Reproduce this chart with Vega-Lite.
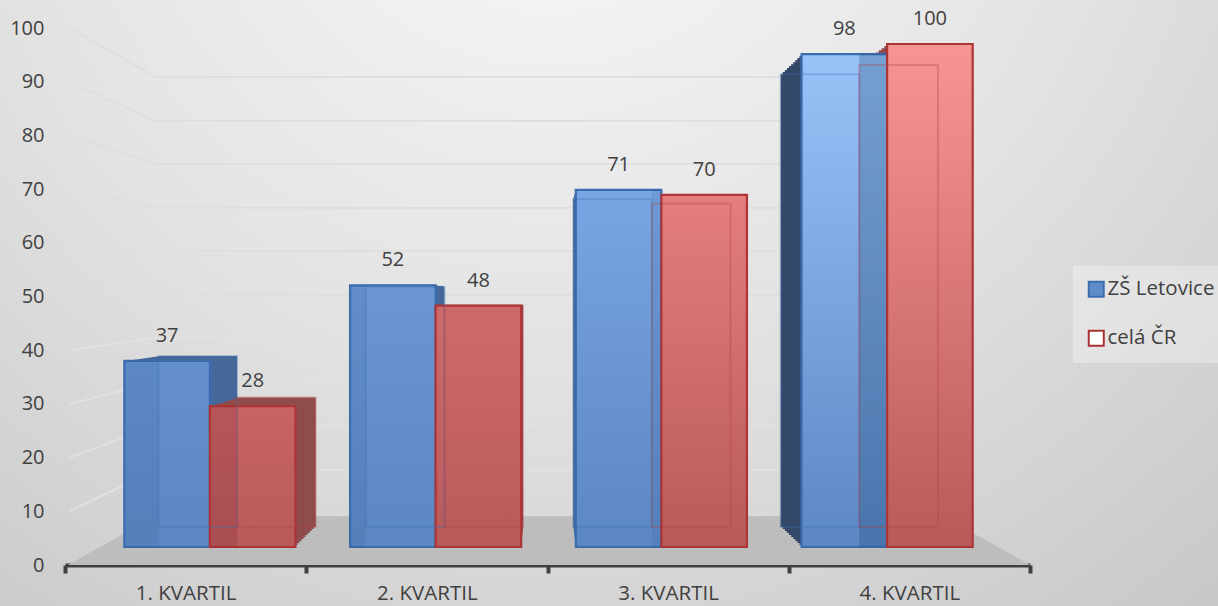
{"$schema":"https://vega.github.io/schema/vega-lite/v6.json","width":1218,"height":606,"padding":0,"autosize":{"type":"none"},
"view":{"stroke":null,"fill":{"gradient":"radial","x1":0.45,"y1":0.08,"r1":0,"x2":0.45,"y2":0.08,"r2":0.95,"stops":[{"offset":0,"color":"#fbfbfb"},{"offset":0.5,"color":"#e2e2e2"},{"offset":1,"color":"#c2c2c2"}]}},
"config":{"text":{"font":"Open Sans"}},
"datasets":{
"hodnoty":[{"kvartil":"1. KVARTIL","skupina":"ZŠ Letovice","hodnota":37},{"kvartil":"1. KVARTIL","skupina":"celá ČR","hodnota":28},{"kvartil":"2. KVARTIL","skupina":"ZŠ Letovice","hodnota":52},{"kvartil":"2. KVARTIL","skupina":"celá ČR","hodnota":48},{"kvartil":"3. KVARTIL","skupina":"ZŠ Letovice","hodnota":71},{"kvartil":"3. KVARTIL","skupina":"celá ČR","hodnota":70},{"kvartil":"4. KVARTIL","skupina":"ZŠ Letovice","hodnota":98},{"kvartil":"4. KVARTIL","skupina":"celá ČR","hodnota":100}],
"podlaha":[{"poloha":0.3,"horni":0,"dolni":0},{"poloha":9.33,"horni":9.1,"dolni":0},{"poloha":91,"horni":9.1,"dolni":0},{"poloha":100,"horni":0,"dolni":0}],
"mrizka":[{"p1":0.5,"p2":9.33,"v1":100,"v2":90.9},{"p1":9.33,"p2":91,"v1":90.9,"v2":90.9},{"p1":0.5,"p2":9.33,"v1":90,"v2":82.7},{"p1":9.33,"p2":91,"v1":82.7,"v2":82.7},{"p1":0.5,"p2":9.33,"v1":80,"v2":74.7},{"p1":9.33,"p2":91,"v1":74.7,"v2":74.7},{"p1":0.5,"p2":9.33,"v1":70,"v2":66.5},{"p1":9.33,"p2":91,"v1":66.5,"v2":66.5},{"p1":0.5,"p2":9.33,"v1":60,"v2":58.5},{"p1":9.33,"p2":91,"v1":58.5,"v2":58.5},{"p1":0.5,"p2":9.33,"v1":50,"v2":50.3},{"p1":9.33,"p2":91,"v1":50.3,"v2":50.3},{"p1":0.5,"p2":9.33,"v1":40,"v2":42.3},{"p1":9.33,"p2":91,"v1":42.3,"v2":42.3},{"p1":0.5,"p2":9.33,"v1":30,"v2":34.1},{"p1":9.33,"p2":91,"v1":34.1,"v2":34.1},{"p1":0.5,"p2":9.33,"v1":20,"v2":25.9},{"p1":9.33,"p2":91,"v1":25.9,"v2":25.9},{"p1":0.5,"p2":9.33,"v1":10,"v2":17.7},{"p1":9.33,"p2":91,"v1":17.7,"v2":17.7}]},
"data":{"name":"hodnoty"},
"resolve":{"scale":{"x":"independent","y":"independent","xOffset":"independent","fill":"independent","stroke":"independent"},"axis":{"x":"independent","y":"independent"}},
"layer":[
{"data":{"name":"podlaha"},"mark":{"type":"area","color":"#bdbdbd"},"encoding":{"x":{"field":"poloha","type":"quantitative","scale":{"domain":[0,100],"range":[65,1030]},"axis":null},"y":{"field":"horni","type":"quantitative","scale":{"domain":[0,100],"range":[565,28]},"axis":null},"y2":{"field":"dolni"}}},
{"data":{"name":"mrizka"},"mark":{"type":"rule","strokeWidth":1.6},"encoding":{"x":{"field":"p1","type":"quantitative","scale":{"domain":[0,100],"range":[65,1030]},"axis":null},"x2":{"field":"p2"},"y":{"field":"v1","type":"quantitative","scale":{"domain":[0,100],"range":[565,28]},"axis":{"orient":"left","offset":-44,"title":null,"domain":false,"ticks":false,"grid":false,"values":[0,10,20,30,40,50,60,70,80,90,100],"labelFont":"Open Sans","labelFontSize":20,"labelColor":"#404040","labelPadding":0}},"y2":{"field":"v2"},"color":{"condition":{"test":"datum.v1>=45","value":"#dedede"},"value":"#e2e2e2"}}},
{"mark":{"type":"bar","opacity":0},"encoding":{"x":{"field":"kvartil","type":"nominal","scale":{"range":[65,1030],"paddingInner":0,"paddingOuter":0},"axis":{"orient":"bottom","offset":-41,"title":null,"labelAngle":0,"tickBand":"extent","domainColor":"#404040","domainWidth":4,"tickColor":"#404040","tickWidth":4,"tickSize":8,"labelFont":"Open Sans","labelFontSize":20.5,"labelColor":"#404040","labelPadding":10}}}},
{"mark":{"type":"point","filled":true,"shape":"square","size":1,"opacity":1},"encoding":{"x":{"field":"kvartil","type":"nominal","scale":{"range":[97,1000],"paddingInner":0.242,"paddingOuter":0.121},"axis":null},"xOffset":{"field":"skupina","scale":{"type":"point","domain":["ZŠ Letovice","celá ČR"],"padding":0.5}},"y":{"field":"hodnota","type":"quantitative","stack":null,"scale":{"domain":[0,100],"range":[547,350]},"axis":null},
"fill":{"field":"skupina","scale":{"domain":["ZŠ Letovice","celá ČR"],"range":["#5f8cc8","#ffffff"]},"legend":{"title":null,"orient":"none","legendX":1073,"legendY":266,"padding":13,"fillColor":"rgba(255,255,255,0.3)","symbolType":"square","symbolSize":225,"symbolStrokeWidth":2,"labelFont":"Open Sans","labelFontSize":20.5,"labelColor":"#404040","labelOffset":1,"rowPadding":25,"labelLimit":200}},
"stroke":{"field":"skupina","scale":{"domain":["ZŠ Letovice","celá ČR"],"range":["#3d6fb0","#a83232"]},"legend":{"title":null,"orient":"none","legendX":1073,"legendY":266,"padding":13,"fillColor":"rgba(255,255,255,0.3)","symbolType":"square","symbolSize":225,"symbolStrokeWidth":2,"labelFont":"Open Sans","labelFontSize":20.5,"labelColor":"#404040","labelOffset":1,"rowPadding":25,"labelLimit":200}}}},
{"mark":{"type":"bar"},"encoding":{"x":{"field":"kvartil","type":"nominal","scale":{"range":[133.4,963],"paddingInner":0.242,"paddingOuter":0.121},"axis":null},"xOffset":{"field":"skupina","scale":{"domain":["ZŠ Letovice","celá ČR"],"paddingInner":0,"paddingOuter":0}},"y":{"field":"hodnota","type":"quantitative","stack":null,"scale":{"domain":[0,100],"range":[527,64.9]},"axis":null},"fill":{"condition":{"test":"datum.kvartil=='4. KVARTIL'&&datum.skupina=='ZŠ Letovice'","value":"#34496a"},"field":"skupina","scale":{"domain":["ZŠ Letovice","celá ČR"],"range":["#46689a","#8f4c4c"]},"legend":null}}},
{"mark":{"type":"bar"},"encoding":{"x":{"field":"kvartil","type":"nominal","scale":{"range":[129.8,966.7],"paddingInner":0.242,"paddingOuter":0.121},"axis":null},"xOffset":{"field":"skupina","scale":{"domain":["ZŠ Letovice","celá ČR"],"paddingInner":0,"paddingOuter":0}},"y":{"field":"hodnota","type":"quantitative","stack":null,"scale":{"domain":[0,100],"range":[529,62.8]},"axis":null},"fill":{"condition":{"test":"datum.kvartil=='4. KVARTIL'&&datum.skupina=='ZŠ Letovice'","value":"#34496a"},"field":"skupina","scale":{"domain":["ZŠ Letovice","celá ČR"],"range":["#46689a","#8f4c4c"]},"legend":null}}},
{"mark":{"type":"bar"},"encoding":{"x":{"field":"kvartil","type":"nominal","scale":{"range":[126.1,970.4],"paddingInner":0.242,"paddingOuter":0.121},"axis":null},"xOffset":{"field":"skupina","scale":{"domain":["ZŠ Letovice","celá ČR"],"paddingInner":0,"paddingOuter":0}},"y":{"field":"hodnota","type":"quantitative","stack":null,"scale":{"domain":[0,100],"range":[531,60.7]},"axis":null},"fill":{"condition":{"test":"datum.kvartil=='4. KVARTIL'&&datum.skupina=='ZŠ Letovice'","value":"#34496a"},"field":"skupina","scale":{"domain":["ZŠ Letovice","celá ČR"],"range":["#46689a","#8f4c4c"]},"legend":null}}},
{"mark":{"type":"bar"},"encoding":{"x":{"field":"kvartil","type":"nominal","scale":{"range":[122.5,974.1],"paddingInner":0.242,"paddingOuter":0.121},"axis":null},"xOffset":{"field":"skupina","scale":{"domain":["ZŠ Letovice","celá ČR"],"paddingInner":0,"paddingOuter":0}},"y":{"field":"hodnota","type":"quantitative","stack":null,"scale":{"domain":[0,100],"range":[533,58.6]},"axis":null},"fill":{"condition":{"test":"datum.kvartil=='4. KVARTIL'&&datum.skupina=='ZŠ Letovice'","value":"#34496a"},"field":"skupina","scale":{"domain":["ZŠ Letovice","celá ČR"],"range":["#46689a","#8f4c4c"]},"legend":null}}},
{"mark":{"type":"bar"},"encoding":{"x":{"field":"kvartil","type":"nominal","scale":{"range":[118.8,977.8],"paddingInner":0.242,"paddingOuter":0.121},"axis":null},"xOffset":{"field":"skupina","scale":{"domain":["ZŠ Letovice","celá ČR"],"paddingInner":0,"paddingOuter":0}},"y":{"field":"hodnota","type":"quantitative","stack":null,"scale":{"domain":[0,100],"range":[535,56.5]},"axis":null},"fill":{"condition":{"test":"datum.kvartil=='4. KVARTIL'&&datum.skupina=='ZŠ Letovice'","value":"#34496a"},"field":"skupina","scale":{"domain":["ZŠ Letovice","celá ČR"],"range":["#46689a","#8f4c4c"]},"legend":null}}},
{"mark":{"type":"bar"},"encoding":{"x":{"field":"kvartil","type":"nominal","scale":{"range":[115.2,981.5],"paddingInner":0.242,"paddingOuter":0.121},"axis":null},"xOffset":{"field":"skupina","scale":{"domain":["ZŠ Letovice","celá ČR"],"paddingInner":0,"paddingOuter":0}},"y":{"field":"hodnota","type":"quantitative","stack":null,"scale":{"domain":[0,100],"range":[537,54.5]},"axis":null},"fill":{"condition":{"test":"datum.kvartil=='4. KVARTIL'&&datum.skupina=='ZŠ Letovice'","value":"#34496a"},"field":"skupina","scale":{"domain":["ZŠ Letovice","celá ČR"],"range":["#46689a","#8f4c4c"]},"legend":null}}},
{"mark":{"type":"bar"},"encoding":{"x":{"field":"kvartil","type":"nominal","scale":{"range":[111.6,985.2],"paddingInner":0.242,"paddingOuter":0.121},"axis":null},"xOffset":{"field":"skupina","scale":{"domain":["ZŠ Letovice","celá ČR"],"paddingInner":0,"paddingOuter":0}},"y":{"field":"hodnota","type":"quantitative","stack":null,"scale":{"domain":[0,100],"range":[539,52.4]},"axis":null},"fill":{"condition":{"test":"datum.kvartil=='4. KVARTIL'&&datum.skupina=='ZŠ Letovice'","value":"#34496a"},"field":"skupina","scale":{"domain":["ZŠ Letovice","celá ČR"],"range":["#46689a","#8f4c4c"]},"legend":null}}},
{"mark":{"type":"bar"},"encoding":{"x":{"field":"kvartil","type":"nominal","scale":{"range":[107.9,988.9],"paddingInner":0.242,"paddingOuter":0.121},"axis":null},"xOffset":{"field":"skupina","scale":{"domain":["ZŠ Letovice","celá ČR"],"paddingInner":0,"paddingOuter":0}},"y":{"field":"hodnota","type":"quantitative","stack":null,"scale":{"domain":[0,100],"range":[541,50.3]},"axis":null},"fill":{"condition":{"test":"datum.kvartil=='4. KVARTIL'&&datum.skupina=='ZŠ Letovice'","value":"#34496a"},"field":"skupina","scale":{"domain":["ZŠ Letovice","celá ČR"],"range":["#46689a","#8f4c4c"]},"legend":null}}},
{"mark":{"type":"bar"},"encoding":{"x":{"field":"kvartil","type":"nominal","scale":{"range":[104.3,992.6],"paddingInner":0.242,"paddingOuter":0.121},"axis":null},"xOffset":{"field":"skupina","scale":{"domain":["ZŠ Letovice","celá ČR"],"paddingInner":0,"paddingOuter":0}},"y":{"field":"hodnota","type":"quantitative","stack":null,"scale":{"domain":[0,100],"range":[543,48.2]},"axis":null},"fill":{"condition":{"test":"datum.kvartil=='4. KVARTIL'&&datum.skupina=='ZŠ Letovice'","value":"#34496a"},"field":"skupina","scale":{"domain":["ZŠ Letovice","celá ČR"],"range":["#46689a","#8f4c4c"]},"legend":null}}},
{"mark":{"type":"bar"},"encoding":{"x":{"field":"kvartil","type":"nominal","scale":{"range":[100.6,996.3],"paddingInner":0.242,"paddingOuter":0.121},"axis":null},"xOffset":{"field":"skupina","scale":{"domain":["ZŠ Letovice","celá ČR"],"paddingInner":0,"paddingOuter":0}},"y":{"field":"hodnota","type":"quantitative","stack":null,"scale":{"domain":[0,100],"range":[545,46.1]},"axis":null},"fill":{"condition":{"test":"datum.kvartil=='4. KVARTIL'&&datum.skupina=='ZŠ Letovice'","value":"#34496a"},"field":"skupina","scale":{"domain":["ZŠ Letovice","celá ČR"],"range":["#46689a","#8f4c4c"]},"legend":null}}},
{"mark":{"type":"bar","strokeWidth":2.2},"encoding":{"x":{"field":"kvartil","type":"nominal","scale":{"range":[97,1000],"paddingInner":0.242,"paddingOuter":0.121},"axis":null},"xOffset":{"field":"skupina","scale":{"domain":["ZŠ Letovice","celá ČR"],"paddingInner":0,"paddingOuter":0}},"y":{"field":"hodnota","type":"quantitative","stack":null,"scale":{"domain":[0,100],"range":[547,44]},"axis":null},"stroke":{"field":"skupina","scale":{"domain":["ZŠ Letovice","celá ČR"],"range":["#3a6cae","#ad3535"]},"legend":null},
"fill":{"condition":[
{"test":"datum.kvartil=='1. KVARTIL'&&datum.skupina=='ZŠ Letovice'","value":{"gradient":"linear","x1":0,"y1":0,"x2":0,"y2":1,"stops":[{"offset":0,"color":"#6491cd"},{"offset":1,"color":"#5b88c4"}]}},
{"test":"datum.kvartil=='2. KVARTIL'&&datum.skupina=='ZŠ Letovice'","value":{"gradient":"linear","x1":0,"y1":0,"x2":0,"y2":1,"stops":[{"offset":0,"color":"#6a97d4"},{"offset":1,"color":"#5b88c4"}]}},
{"test":"datum.kvartil=='3. KVARTIL'&&datum.skupina=='ZŠ Letovice'","value":{"gradient":"linear","x1":0,"y1":0,"x2":0,"y2":1,"stops":[{"offset":0,"color":"#78a5e3"},{"offset":1,"color":"#5b88c4"}]}},
{"test":"datum.kvartil=='4. KVARTIL'&&datum.skupina=='ZŠ Letovice'","value":{"gradient":"linear","x1":0,"y1":0,"x2":0,"y2":1,"stops":[{"offset":0,"color":"#97c3f8"},{"offset":1,"color":"#5b88c4"}]}},
{"test":"datum.kvartil=='1. KVARTIL'&&datum.skupina=='celá ČR'","value":{"gradient":"linear","x1":0,"y1":0,"x2":0,"y2":1,"stops":[{"offset":0,"color":"#c86464"},{"offset":1,"color":"#b85a5a"}]}},
{"test":"datum.kvartil=='2. KVARTIL'&&datum.skupina=='celá ČR'","value":{"gradient":"linear","x1":0,"y1":0,"x2":0,"y2":1,"stops":[{"offset":0,"color":"#d06a6a"},{"offset":1,"color":"#b85a5a"}]}},
{"test":"datum.kvartil=='3. KVARTIL'&&datum.skupina=='celá ČR'","value":{"gradient":"linear","x1":0,"y1":0,"x2":0,"y2":1,"stops":[{"offset":0,"color":"#e57e7e"},{"offset":1,"color":"#b85a5a"}]}}],
"value":{"gradient":"linear","x1":0,"y1":0,"x2":0,"y2":1,"stops":[{"offset":0,"color":"#f99494"},{"offset":1,"color":"#b85a5a"}]}}}},
{"transform":[{"filter":"datum.kvartil=='1. KVARTIL'&&datum.skupina=='ZŠ Letovice'"}],"mark":{"type":"bar","color":"#1f3f70","opacity":0.1},"encoding":{"x":{"field":"kvartil","type":"nominal","scale":{"domain":["1. KVARTIL"],"range":[125,158.5],"paddingInner":0,"paddingOuter":0},"axis":null},"y":{"field":"hodnota","type":"quantitative","stack":null,"scale":{"domain":[0,100],"range":[547,44]},"axis":null}}},
{"transform":[{"filter":"datum.kvartil=='1. KVARTIL'&&datum.skupina=='celá ČR'"}],"mark":{"type":"bar","color":"#701f2f","opacity":0.2},"encoding":{"x":{"field":"kvartil","type":"nominal","scale":{"domain":["1. KVARTIL"],"range":[211,237.1],"paddingInner":0,"paddingOuter":0},"axis":null},"y":{"field":"hodnota","type":"quantitative","stack":null,"scale":{"domain":[0,100],"range":[547,44]},"axis":null}}},
{"transform":[{"filter":"datum.kvartil=='2. KVARTIL'&&datum.skupina=='ZŠ Letovice'"}],"mark":{"type":"bar","color":"#1f3f70","opacity":0.1},"encoding":{"x":{"field":"kvartil","type":"nominal","scale":{"domain":["2. KVARTIL"],"range":[351,365.9],"paddingInner":0,"paddingOuter":0},"axis":null},"y":{"field":"hodnota","type":"quantitative","stack":null,"scale":{"domain":[0,100],"range":[547,44]},"axis":null}}},
{"transform":[{"filter":"datum.kvartil=='3. KVARTIL'&&datum.skupina=='ZŠ Letovice'"}],"mark":{"type":"bar","color":"#1f3f70","opacity":0.12},"encoding":{"x":{"field":"kvartil","type":"nominal","scale":{"domain":["3. KVARTIL"],"range":[651.9,660.5],"paddingInner":0,"paddingOuter":0},"axis":null},"y":{"field":"hodnota","type":"quantitative","stack":null,"scale":{"domain":[0,100],"range":[547,44]},"axis":null}}},
{"transform":[{"filter":"datum.kvartil=='4. KVARTIL'&&datum.skupina=='ZŠ Letovice'"}],"mark":{"type":"bar","color":"#1f3f70","opacity":0.28},"encoding":{"x":{"field":"kvartil","type":"nominal","scale":{"domain":["4. KVARTIL"],"range":[859.3,886],"paddingInner":0,"paddingOuter":0},"axis":null},"y":{"field":"hodnota","type":"quantitative","stack":null,"scale":{"domain":[0,100],"range":[547,44]},"axis":null}}},
{"mark":{"type":"bar","fillOpacity":0,"strokeWidth":2,"strokeOpacity":0.3},"encoding":{"x":{"field":"kvartil","type":"nominal","scale":{"range":[133.4,963],"paddingInner":0.242,"paddingOuter":0.121},"axis":null},"xOffset":{"field":"skupina","scale":{"domain":["ZŠ Letovice","celá ČR"],"paddingInner":0,"paddingOuter":0}},"y":{"field":"hodnota","type":"quantitative","stack":null,"scale":{"domain":[0,100],"range":[527,64.9]},"axis":null},"stroke":{"field":"skupina","scale":{"domain":["ZŠ Letovice","celá ČR"],"range":["#3d6fb0","#b04040"]},"legend":null}}},
{"mark":{"type":"text","font":"Open Sans","fontSize":20,"dy":-25,"color":"#404040"},"encoding":{"x":{"field":"kvartil","type":"nominal","scale":{"range":[97,1000],"paddingInner":0.242,"paddingOuter":0.121},"axis":null},"xOffset":{"field":"skupina","scale":{"type":"point","domain":["ZŠ Letovice","celá ČR"],"padding":0.5}},"y":{"field":"hodnota","type":"quantitative","stack":null,"scale":{"domain":[0,100],"range":[547,44]},"axis":null},"text":{"field":"hodnota","type":"quantitative"}}}
]}
